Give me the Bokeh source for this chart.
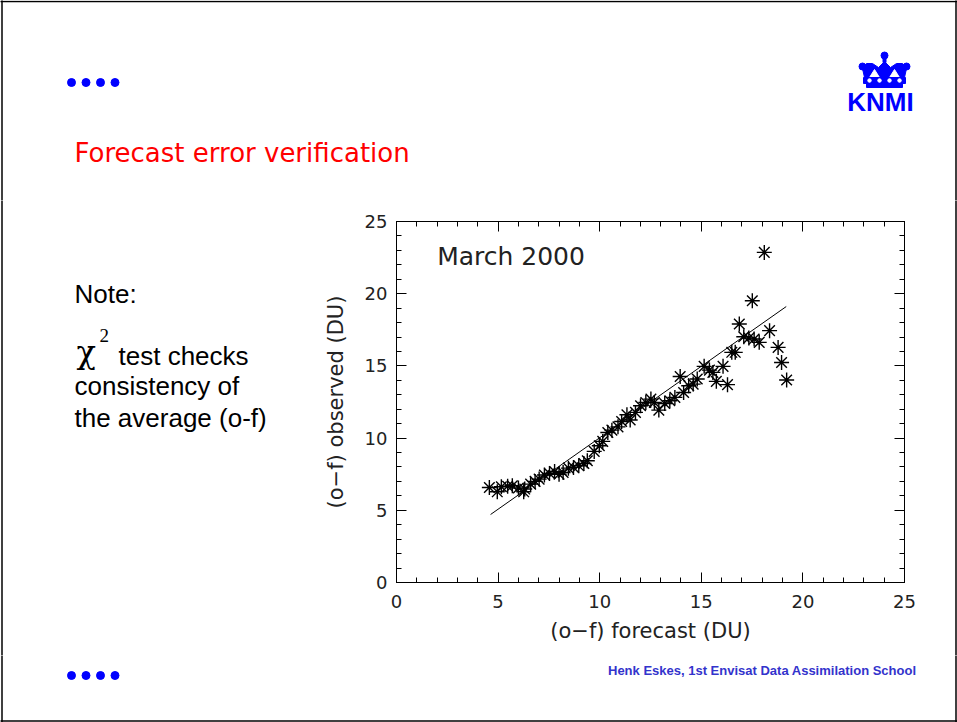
from bokeh.plotting import figure
from bokeh.models import Range1d, LinearAxis, SingleIntervalTicker, Label
from bokeh.layouts import column, row
from bokeh.embed import file_html
from bokeh.resources import INLINE
from bokeh.core.properties import value

# ---- data: (o-f) forecast vs (o-f) observed, March 2000 ----
forecast = [4.57, 4.96, 5.16, 5.47, 5.70, 6.00, 6.26, 6.31, 6.60, 6.82,
            7.02, 7.28, 7.53, 7.78, 8.00, 8.20, 8.46, 8.71, 8.97, 9.22,
            9.39, 9.73, 9.98, 10.15, 10.40, 10.60, 10.90, 11.08, 11.34, 11.50,
            11.76, 12.01, 12.27, 12.52, 12.69, 12.91, 13.20, 13.45, 13.70, 13.96,
            14.13, 14.38, 14.60, 14.80, 15.14, 15.40, 15.57, 15.74, 16.07, 16.29,
            16.50, 16.67, 16.87, 17.09, 17.34, 17.51, 17.60, 17.85, 18.10, 18.36,
            18.78, 18.95, 19.20]
observed = [6.58, 6.28, 6.63, 6.67, 6.70, 6.54, 6.28, 6.47, 6.81, 7.00,
            7.16, 7.44, 7.55, 7.69, 7.50, 7.62, 7.92, 7.97, 8.08, 8.24,
            8.43, 9.08, 9.47, 9.77, 10.39, 10.55, 10.78, 11.15, 11.62, 11.25,
            11.78, 12.24, 12.47, 12.70, 12.47, 11.94, 12.40, 12.59, 12.82, 14.27,
            13.16, 13.63, 13.74, 14.09, 14.97, 14.71, 14.55, 13.93, 14.97, 13.70,
            15.94, 15.94, 17.90, 17.02, 16.93, 19.51, 16.86, 16.63, 22.86, 17.44,
            16.28, 15.24, 14.02]
fit_x = [4.63, 19.18]
fit_y = [4.71, 19.11]
axis_ticks = [0, 5, 10, 15, 20, 25]

# ---- page geometry ----
PAGE_W, PAGE_H = 957, 722
HEADER_H, BODY_H = 200, 455
FOOTER_H = PAGE_H - HEADER_H - BODY_H
NOTE_W, STRIP_W = 300, 17
PLOT_W = PAGE_W - NOTE_W - STRIP_W

BLUE = "#0000ff"
INK = "#222222"


def no_frame_align(fig):
    # keep each panel's frame where its own borders put it
    try:
        fig.frame_align = False
    except AttributeError:
        pass


def panel(w, h):
    """A blank figure whose coordinates are pixels, y pointing down."""
    p = figure(width=w, height=h, x_range=Range1d(0, w), y_range=Range1d(h, 0),
               x_axis_location=None, y_axis_location=None,
               output_backend="svg", toolbar_location=None, min_border=0)
    p.grid.visible = False
    p.outline_line_color = None
    no_frame_align(p)
    return p


# ---- header: bullets, title, logo ----
header = panel(PAGE_W, HEADER_H)
header.segment(x0=[-5, 1.5, 955.5], y0=[1, -5, -5], x1=[PAGE_W + 5, 1.5, 955.5],
               y1=[1, HEADER_H + 5, HEADER_H + 5], line_color="black", line_width=1.5)
header.scatter(x=[71, 85.5, 100, 114.5], y=[82] * 4, size=8, marker="circle",
               fill_color=BLUE, line_color=BLUE)
header.text(x=[74], y=[152], text=["Forecast error verification"],
            text_font=value("DejaVu Sans"), text_font_size="26px",
            text_color="#ff0000", text_baseline="middle")

# KNMI crown
header.patch(x=[864, 862, 866, 872, 878, 884, 890, 896, 902, 906, 904],
             y=[77, 68, 63, 63, 67, 61, 67, 63, 63, 68, 77], color=BLUE)
header.patches(xs=[[869, 874, 879], [889, 894, 899]], ys=[[77, 69, 77], [77, 69, 77]],
               color="white")
header.scatter(x=[862, 884, 906], y=[66, 55, 66], size=7, color=BLUE)
header.quad(left=[882.5, 863, 866], right=[885.5, 905, 902], top=[57, 77, 83], bottom=[62, 83, 87],
            color=BLUE)
header.scatter(x=[869, 879, 889, 899], y=[80] * 4, size=3.5, color="white")
header.text(x=[880], y=[101], text=["KNMI"], text_align="center",
            text_font=value("Liberation Sans"), text_font_style="bold",
            text_font_size="26px", text_color=BLUE, text_baseline="middle")

# ---- left notes (y measured from the top of the body row) ----
notes = panel(NOTE_W, BODY_H)
notes.segment(x0=[1.5], y0=[-5], x1=[1.5], y1=[BODY_H + 5], line_color="black", line_width=1.5)
notes.text(x=[74, 118, 74, 74], y=[93, 155, 185, 217],
           text=["Note:", "test checks", "consistency of", "the average (o-f)"],
           text_font=value("Liberation Sans"), text_font_size="26px", text_color="black",
           text_baseline="middle")
notes.text(x=[76], y=[151], text=["\u03c7"], text_font=value("DejaVu Serif"),
           text_font_size="32px", text_color="black", text_baseline="middle")
notes.text(x=[99], y=[135], text=["2"], text_font=value("Liberation Serif"),
           text_font_size="19px", text_color="black", text_baseline="middle")

# ---- scatter plot ----
p = figure(width=PLOT_W, height=BODY_H, x_range=Range1d(0, 25), y_range=Range1d(0, 25),
           output_backend="svg", toolbar_location=None,
           min_border_left=96, min_border_right=36, min_border_top=21, min_border_bottom=73)
no_frame_align(p)
p.grid.visible = False
p.outline_line_color = "black"
p.outline_line_width = 1

for ax in (p.xaxis[0], p.yaxis[0]):
    ax.ticker = SingleIntervalTicker(interval=5, num_minor_ticks=5)
    ax.major_label_overrides = {t: str(t) for t in axis_ticks}
    ax.axis_line_color = "black"
    ax.major_tick_line_color = "black"
    ax.minor_tick_line_color = "black"
    ax.major_tick_in, ax.major_tick_out = 10, 0
    ax.minor_tick_in, ax.minor_tick_out = 5, 0
    ax.major_label_text_font = "DejaVu Sans"
    ax.major_label_text_font_size = "18px"
    ax.major_label_text_color = INK
    ax.axis_label_text_font = "DejaVu Sans"
    ax.axis_label_text_font_size = "21px"
    ax.axis_label_text_font_style = "normal"
    ax.axis_label_text_color = INK

p.xaxis.axis_label = "(o\u2212f) forecast (DU)"
p.yaxis.axis_label = "(o\u2212f) observed (DU)"
p.xaxis.major_label_standoff = 12
p.xaxis.axis_label_standoff = 8
p.yaxis.major_label_standoff = 9
p.yaxis.axis_label_standoff = 14

# mirrored tick marks on top and right, without labels
for loc in ("above", "right"):
    m = LinearAxis(ticker=SingleIntervalTicker(interval=5, num_minor_ticks=5),
                   major_tick_in=10, major_tick_out=0, minor_tick_in=5, minor_tick_out=0,
                   major_label_text_color=None, major_label_standoff=0,
                   axis_line_color="black", major_tick_line_color="black",
                   minor_tick_line_color="black")
    p.add_layout(m, loc)

p.line(fit_x, fit_y, line_color="black", line_width=1)
p.scatter(forecast, observed, marker="asterisk", size=15,
          line_color="black", line_width=1.4)
p.add_layout(Label(x=2, y=22.6, text="March 2000", text_font="DejaVu Sans",
                   text_font_size="25px", text_color=INK, text_baseline="middle"))

# ---- right strip (page border) ----
strip = panel(STRIP_W, BODY_H)
strip.segment(x0=[15.5], y0=[-5], x1=[15.5], y1=[BODY_H + 5], line_color="black", line_width=1.5)

# ---- footer ----
footer = panel(PAGE_W, FOOTER_H)
footer.segment(x0=[1.5, 955.5, -5], y0=[-5, -5, FOOTER_H - 1.5], x1=[1.5, 955.5, PAGE_W + 5],
               y1=[FOOTER_H + 5, FOOTER_H + 5, FOOTER_H - 1.5], line_color="black", line_width=1.5)
footer.scatter(x=[71, 85.5, 100, 114.5], y=[20] * 4, size=8, marker="circle",
               fill_color=BLUE, line_color=BLUE)
footer.text(x=[916], y=[15], text=["Henk Eskes, 1st Envisat Data Assimilation School"],
            text_align="right", text_font=value("Liberation Sans"), text_font_style="bold",
            text_font_size="13px", text_color="#3333cc", text_baseline="middle")

layout = column(header, row(notes, p, strip), footer)
open("out.html", "w").write(file_html(layout, INLINE))
